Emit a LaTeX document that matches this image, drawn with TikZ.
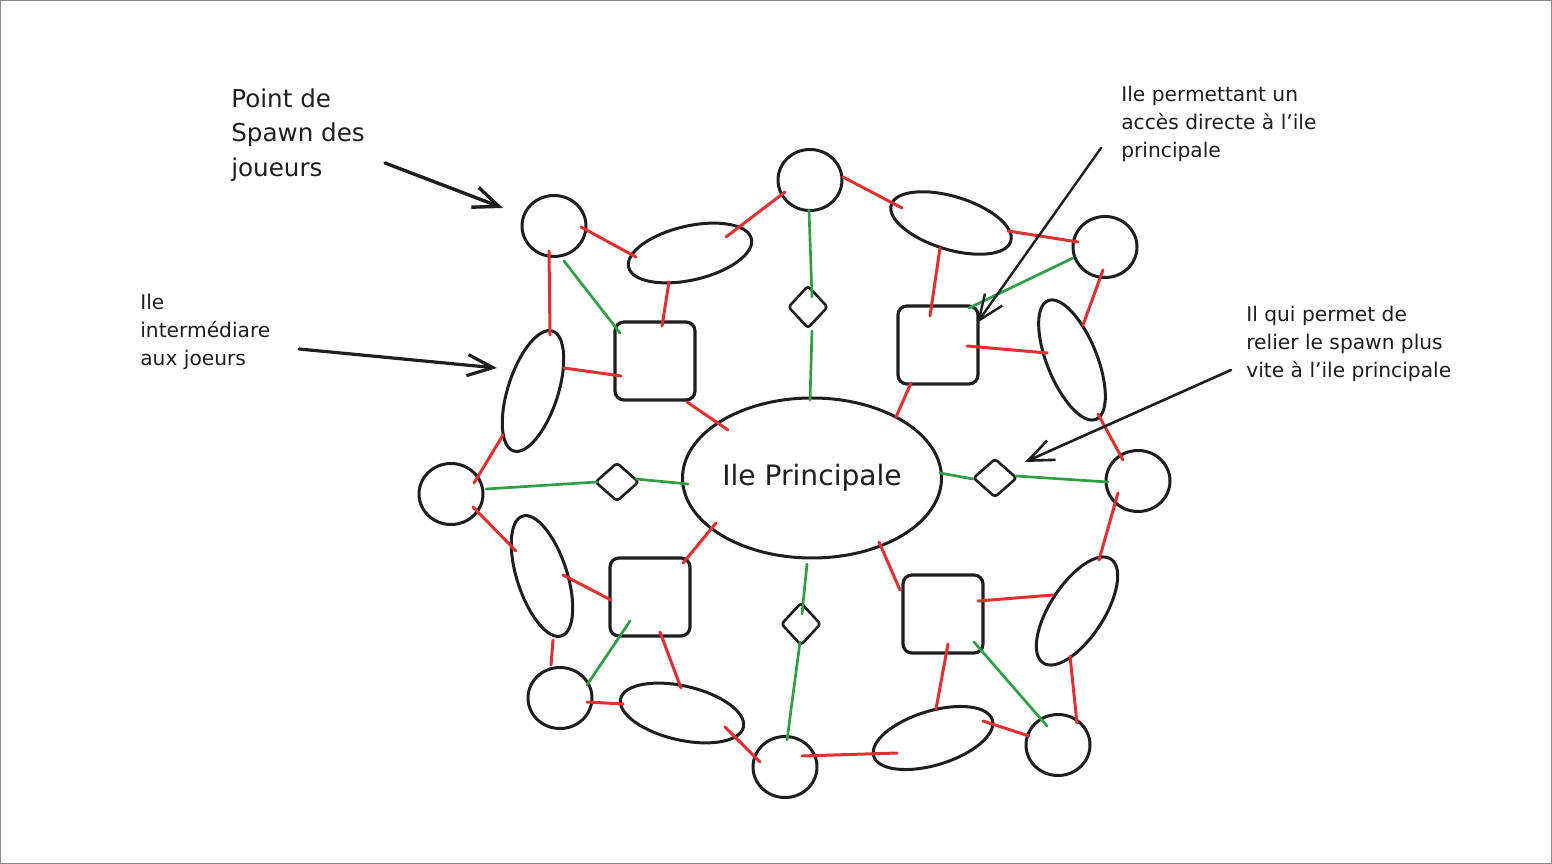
\documentclass[tikz,border=0pt]{standalone}
\usepackage{fontspec}
\setmainfont{DejaVu Sans}
\usetikzlibrary{shapes.geometric,arrows.meta,calc}
\newdimen\pxu \pxu=0.02cm
\definecolor{ink}{HTML}{1E1E1E}
\definecolor{exred}{HTML}{E03131}
\definecolor{exgreen}{HTML}{2F9E44}
\definecolor{framegray}{HTML}{8A8A8A}
\begin{document}
\begin{tikzpicture}[x=0.02cm, y=-0.02cm,
  spawn/.style={ellipse, draw=ink, line width=3\pxu, minimum width=64\pxu, minimum height=61\pxu, inner sep=0},
  isle/.style={ellipse, draw=ink, line width=3\pxu, inner sep=0, minimum width=126\pxu, minimum height=52\pxu},
  hub/.style={rectangle, rounded corners=9\pxu, draw=ink, line width=3.2\pxu, minimum width=80\pxu, minimum height=78\pxu, inner sep=0},
  gate/.style={diamond, draw=ink, line width=2.6\pxu, minimum width=42\pxu, minimum height=42\pxu, inner sep=0, rounded corners=3\pxu},
  rl/.style={draw=exred, line width=3\pxu, line cap=round},
  gl/.style={draw=exgreen, line width=2.7\pxu, line cap=round},
  pointer/.style={draw=ink, line cap=round, line join=round, -{Straight Barb[length=14.5pt, width=12pt]}},
  note/.style={anchor=north west, align=left, inner sep=0, text=ink, font=\fontsize{11.5pt}{15.9pt}\selectfont}
]
\useasboundingbox (0,0) rectangle (1552,864);
\draw[framegray, line width=1.5\pxu] (0.75,0.75) rectangle (1551.25,863.25);

% main island
\node[ellipse, draw=ink, line width=3\pxu, minimum width=259\pxu, minimum height=160\pxu, inner sep=0,
      text=ink, font=\fontsize{16pt}{18pt}\selectfont] (main) at (812,478) {Ile Principale};

% spawn points
\node[spawn] (C1) at (554,226) {};
\node[spawn] (C2) at (810,180) {};
\node[spawn] (C3) at (1105,247) {};
\node[spawn] (C4) at (1138,481) {};
\node[spawn] (C5) at (1058,745) {};
\node[spawn] (C6) at (785,767) {};
\node[spawn] (C7) at (560,698) {};
\node[spawn] (C8) at (451,494) {};

% intermediate islands
\node[isle, minimum width=126\pxu, minimum height=54\pxu, rotate=13]  (E1) at (690,253) {};
\node[isle, minimum width=125\pxu, minimum height=53\pxu, rotate=-17] (E2) at (951,223) {};
\node[isle, minimum width=128\pxu, minimum height=50\pxu, rotate=112] (E3) at (1072,360) {};
\node[isle, minimum width=124\pxu, minimum height=54\pxu, rotate=57]  (E4) at (1077,611) {};
\node[isle, minimum width=124\pxu, minimum height=54\pxu, rotate=17]  (E5) at (933,738) {};
\node[isle, minimum width=126\pxu, minimum height=54\pxu, rotate=-13] (E6) at (682,713) {};
\node[isle, minimum width=126\pxu, minimum height=50\pxu, rotate=108] (E7) at (542,576) {};
\node[isle, minimum width=126\pxu, minimum height=50\pxu, rotate=72]  (E8) at (533,391) {};

% direct-access islands
\node[hub] (S1) at (655,361) {};
\node[hub] (S2) at (938,345) {};
\node[hub] (S3) at (943,614) {};
\node[hub] (S4) at (650,597) {};

% small bridges
\node[gate, minimum width=40\pxu, minimum height=43\pxu] (D1) at (808,307) {};
\node[gate, minimum width=44\pxu, minimum height=39\pxu] (D2) at (617,482) {};
\node[gate, minimum width=44\pxu, minimum height=39\pxu] (D3) at (995,478) {};
\node[gate, minimum width=40\pxu, minimum height=43\pxu] (D4) at (801,624) {};

% red connectors
\draw[rl] ($(C1)+(27,1)$) -- ($(E1)+(-54,4)$);
\draw[rl] ($(C1)+(-5,25)$) -- ($(E8)+(17,-56)$);
\draw[rl] ($(C2)+(-25,12)$) -- ($(E1)+(36,-16)$);
\draw[rl] ($(E1)+(-21,29)$) -- ($(S1)+(7,-35)$);
\draw[rl] ($(E8)+(31,-23)$) -- ($(S1)+(-34,15)$);
\draw[rl] ($(S1)+(32,41)$) -- ($(main)+(-84,-48)$);
\draw[rl] ($(E8)+(-30,44)$) -- ($(C8)+(23,-11)$);
\draw[rl] ($(C2)+(33,-3)$) -- ($(E2)+(-49,-15)$);
\draw[rl] ($(E2)+(57,8)$) -- ($(C3)+(-27,-5)$);
\draw[rl] ($(E2)+(-11,25)$) -- ($(S2)+(-8,-29)$);
\draw[rl] ($(C3)+(-2,23)$) -- ($(E3)+(11,-35)$);
\draw[rl] ($(S2)+(29,1)$) -- ($(E3)+(-25,-7)$);
\draw[rl] ($(S2)+(-27,38)$) -- ($(main)+(84,-61)$);
\draw[rl] ($(E3)+(26,54)$) -- ($(C4)+(-15,-21)$);
\draw[rl] ($(C8)+(22,13)$) -- ($(E7)+(-26,-25)$);
\draw[rl] ($(main)+(-96,45)$) -- ($(S4)+(33,-34)$);
\draw[rl] ($(E7)+(21,-1)$) -- ($(S4)+(-39,3)$);
\draw[rl] ($(E7)+(11,64)$) -- ($(C7)+(-9,-33)$);
\draw[rl] ($(S4)+(10,35)$) -- ($(E6)+(-1,-25)$);
\draw[rl] ($(C7)+(27,4)$) -- ($(E6)+(-59,-9)$);
\draw[rl] ($(E6)+(43,14)$) -- ($(C6)+(-25,-5)$);
\draw[rl] ($(C6)+(17,-11)$) -- ($(E5)+(-36,15)$);
\draw[rl] ($(main)+(67,64)$) -- ($(S3)+(-43,-24)$);
\draw[rl] ($(S3)+(35,-13)$) -- ($(E4)+(-24,-16)$);
\draw[rl] ($(C4)+(-20,12)$) -- ($(E4)+(22,-51)$);
\draw[rl] ($(S3)+(5,30)$) -- ($(E5)+(3,-29)$);
\draw[rl] ($(E4)+(-7,45)$) -- ($(C5)+(19,-22)$);
\draw[rl] ($(E5)+(50,-17)$) -- ($(C5)+(-29,-9)$);

% green connectors
\draw[gl] ($(C1)+(10,35)$) -- ($(S1)+(-35,-28)$);
\draw[gl] ($(C2)+(-1,30)$) -- ($(D1)+(4,-10)$);
\draw[gl] ($(D1)+(4,24)$) -- ($(main)+(-2,-78)$);
\draw[gl] ($(C3)+(-32,11)$) -- ($(S2)+(31,-37)$);
\draw[gl] ($(C8)+(35,-5)$) -- ($(D2)+(-20,0)$);
\draw[gl] ($(D2)+(19,-3)$) -- ($(main)+(-124,6)$);
\draw[gl] ($(main)+(128,-5)$) -- ($(D3)+(-22,1)$);
\draw[gl] ($(D3)+(21,-2)$) -- ($(C4)+(-30,1)$);
\draw[gl] ($(main)+(-5,86)$) -- ($(D4)+(1,-10)$);
\draw[gl] ($(D4)+(-1,18)$) -- ($(C6)+(2,-27)$);
\draw[gl] ($(S4)+(-20,24)$) -- ($(C7)+(27,-13)$);
\draw[gl] ($(S3)+(31,28)$) -- ($(C5)+(-11,-19)$);

% annotations
\node[note, font=\fontsize{14pt}{19.8pt}\selectfont] (lblspawn) at (231,88) {Point de\\Spawn des\\joueurs};
\node[note] (lblinter) at (140,294) {Ile\\intermédiare\\aux joeurs};
\node[note] (lbldirect) at (1121,86) {Ile permettant un\\accès directe à l'ile\\principale};
\node[note] (lblrelier) at (1246,306) {Il qui permet de\\relier le spawn plus\\vite à l'ile principale};

\coordinate (t1) at (385,163);
\coordinate (t2) at (299,349);
\coordinate (t3) at (1101,148);
\coordinate (t4) at (1231,370);
\draw[pointer, line width=3.4\pxu] (t1) -- ($(C1)+(-51,-18)$);
\draw[pointer, line width=3.2\pxu] (t2) -- ($(E8)+(-36,-23)$);
\draw[pointer, line width=2.4\pxu] (t3) -- ($(S2)+(39,-22)$);
\draw[pointer, line width=2.6\pxu] (t4) -- ($(D3)+(30,-16)$);
\end{tikzpicture}
\end{document}
